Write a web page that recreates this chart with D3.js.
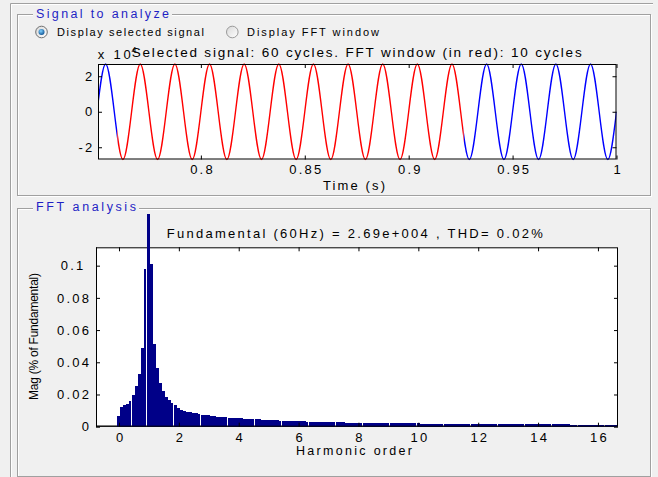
<!DOCTYPE html>
<html><head><meta charset="utf-8">
<script src="https://cdn.jsdelivr.net/npm/d3@7/dist/d3.min.js"></script>
<style>
html,body{margin:0;padding:0;background:#f0f0f0;}
svg{display:block;}
text{font-family:Arial,"Liberation Sans",sans-serif;}
</style></head><body>
<svg id="chart" width="658" height="477"></svg>
<script>
// ---------------- data ----------------
const signalStart = 0.75;          // s, time of first listed sample
const signalStep = 1 / 240;        // s between listed samples (quarter cycle of 60 Hz)
const signalValues = [             // x 10^4
  0, 2.69, 0, -2.69, 0, 2.69, 0, -2.69, 0, 2.69, 0, -2.69, 0, 2.69, 0, -2.69,
  0, 2.69, 0, -2.69, 0, 2.69, 0, -2.69, 0, 2.69, 0, -2.69, 0, 2.69, 0, -2.69,
  0, 2.69, 0, -2.69, 0, 2.69, 0, -2.69, 0, 2.69, 0, -2.69, 0, 2.69, 0, -2.69,
  0, 2.69, 0, -2.69, 0, 2.69, 0, -2.69, 0, 2.69, 0, -2.69, 0
];
const fftWindow = [0.7598, 0.92647];   // s (10 cycles, drawn in red)
const timeTicks = [0.8, 0.85, 0.9, 0.95, 1];
const timeTickLabels = ["0.8", "0.85", "0.9", "0.95", "1"];
const signalTicks = [-2, 0, 2];
const signalTickLabels = ["-2", "0", "2"];

const harmonicStep = 0.1;          // harmonic order between bars
const magnitudes = [               // % of fundamental, bars at 0, 0.1, 0.2 ... 16.6
  0.0064, 0.0122, 0.0132, 0.0142, 0.0159, 0.0196, 0.0250, 0.0326, 0.0486, 0.0980,
  100,    0.1010, 0.0514, 0.0363, 0.0270, 0.0219, 0.0186, 0.0164, 0.0145, 0.0135,
  0.0118, 0.0105, 0.0099, 0.0093, 0.0089, 0.0085, 0.0083, 0.0078, 0.0074, 0.0072,
  0.0070, 0.0069, 0.0067, 0.0063, 0.0061, 0.0060, 0.0058, 0.0056, 0.0055, 0.0054,
  0.0053, 0.0052, 0.0050, 0.0049, 0.0048, 0.0047, 0.0046, 0.0045, 0.0044, 0.0043,
  0.0042, 0.0041, 0.0040, 0.0039, 0.0038, 0.0037, 0.0037, 0.0036, 0.0036, 0.0035,
  0.0034, 0.0034, 0.0033, 0.0032, 0.0031, 0.0031, 0.0030, 0.0030, 0.0030, 0.0029,
  0.0029, 0.0029, 0.0028, 0.0028, 0.0028, 0.0027, 0.0026, 0.0026, 0.0025, 0.0025,
  0.0025, 0.0025, 0.0024, 0.0024, 0.0024, 0.0024, 0.0023, 0.0023, 0.0023, 0.0023,
  0.0023, 0.0022, 0.0022, 0.0022, 0.0022, 0.0021, 0.0021, 0.0021, 0.0021, 0.0021,
  0.0020, 0.0019, 0.0019, 0.0019, 0.0019, 0.0019, 0.0019, 0.0019, 0.0019, 0.0019,
  0.0019, 0.0018, 0.0018, 0.0018, 0.0018, 0.0018, 0.0018, 0.0018, 0.0018, 0.0018,
  0.0018, 0.0017, 0.0017, 0.0017, 0.0017, 0.0017, 0.0017, 0.0017, 0.0017, 0.0017,
  0.0017, 0.0016, 0.0016, 0.0016, 0.0016, 0.0016, 0.0016, 0.0016, 0.0016, 0.0016,
  0.0016, 0.0015, 0.0015, 0.0015, 0.0015, 0.0015, 0.0015, 0.0015, 0.0015, 0.0015,
  0.0015, 0.0013, 0.0012, 0.0012, 0.0012, 0.0012, 0.0012, 0.0012, 0.0012, 0.0012,
  0.0012, 0.0012, 0.0012, 0.0012, 0.0012, 0.0012, 0.0012
];
const harmonicTicks = [0, 2, 4, 6, 8, 10, 12, 14, 16];
const harmonicTickLabels = ["0", "2", "4", "6", "8", "10", "12", "14", "16"];
const magTicks = [0, 0.02, 0.04, 0.06, 0.08, 0.1];
const magTickLabels = ["0", "0.02", "0.04", "0.06", "0.08", "0.1\u00a0"];

const panelTitles = ["Signal to analyze", "FFT analysis"];
const radioLabels = ["Display selected signal", "Display FFT window"];
const signalTitle = "Selected signal: 60 cycles. FFT window (in red): 10 cycles";
const fftTitle = "Fundamental (60Hz) = 2.69e+004 , THD= 0.02%";

// ---------------- drawing ----------------
const svg = d3.select("#chart");
svg.append("rect").attr("width", 658).attr("height", 477).attr("fill", "#f0f0f0");
const defs = svg.append("defs");

function etched(x0, y0, x1, y1) {
  svg.append("rect").attr("x", x0 + 1.5).attr("y", y0 + 1.5)
    .attr("width", x1 - x0).attr("height", y1 - y0)
    .attr("fill", "none").attr("stroke", "#ffffff");
  svg.append("rect").attr("x", x0 + 0.5).attr("y", y0 + 0.5)
    .attr("width", x1 - x0).attr("height", y1 - y0)
    .attr("fill", "none").attr("stroke", "#a0a0a0");
}
function label(x, y, str, size, len, opts = {}) {
  const t = svg.append("text").attr("x", x).attr("y", y).text(str)
    .attr("font-size", size).attr("fill", opts.fill || "#000");
  if (len) t.attr("textLength", len).attr("lengthAdjust", "spacing");
  if (opts.anchor) t.attr("text-anchor", opts.anchor);
  if (opts.transform) t.attr("transform", opts.transform);
  return t;
}

// outer frame
svg.append("path").attr("d", "M10.5,477 V3.5 H653").attr("fill", "none").attr("stroke", "#a0a0a0");
svg.append("path").attr("d", "M11.5,477 V4.5 H653").attr("fill", "none").attr("stroke", "#ffffff");

// panels
etched(17, 14, 650, 195);
etched(17, 208, 650, 476);
svg.append("rect").attr("x", 33).attr("y", 8).attr("width", 139).attr("height", 12).attr("fill", "#f0f0f0");
svg.append("rect").attr("x", 33).attr("y", 202).attr("width", 106).attr("height", 12).attr("fill", "#f0f0f0");
label(36, 18.3, panelTitles[0], 12.5, 133, { fill: "#1f1fc4" });
label(36, 211, panelTitles[1], 12.5, 100, { fill: "#1f1fc4" });

// radio buttons
const rg = defs.append("radialGradient").attr("id", "rsel").attr("cx", "40%").attr("cy", "35%").attr("r", "70%");
rg.append("stop").attr("offset", "0%").attr("stop-color", "#7fd0ff");
rg.append("stop").attr("offset", "100%").attr("stop-color", "#0b4f8f");
const rg2 = defs.append("linearGradient").attr("id", "roff").attr("x1", 0).attr("y1", 0).attr("x2", 1).attr("y2", 1);
rg2.append("stop").attr("offset", "0%").attr("stop-color", "#d8d8d8");
rg2.append("stop").attr("offset", "100%").attr("stop-color", "#ffffff");
svg.append("circle").attr("cx", 41.5).attr("cy", 32).attr("r", 5.8).attr("fill", "url(#roff)").attr("stroke", "#6f6f6f");
svg.append("circle").attr("cx", 41.5).attr("cy", 32).attr("r", 3).attr("fill", "url(#rsel)");
svg.append("circle").attr("cx", 232.3).attr("cy", 32).attr("r", 5.8).attr("fill", "url(#roff)").attr("stroke", "#9a9a9a");
label(57, 35.5, radioLabels[0], 11, 147);
label(247, 35.5, radioLabels[1], 11, 132);

function styleAxis(g, fs) {
  g.select(".domain").remove();
  g.selectAll(".tick line").attr("stroke", "#000");
  g.selectAll(".tick text").attr("font-size", fs).attr("fill", "#000")
    .attr("font-family", "Arial, 'Liberation Sans', sans-serif")
    .style("letter-spacing", "2.2px");
}

// ---------- top plot: signal ----------
const tx = d3.scaleLinear().domain([0.7505, 1]).range([98, 616.5]);
const ty = d3.scaleLinear().domain([-2.69, 2.69]).range([159.5, 64]);
const [tx0, tx1] = tx.range(), [ty0, ty1] = ty.range();
svg.append("rect").attr("x", tx0).attr("y", ty1).attr("width", tx1 - tx0).attr("height", ty0 - ty1).attr("fill", "#fff");

const wx0 = tx(fftWindow[0]), wx1 = tx(fftWindow[1]);
const outClip = defs.append("clipPath").attr("id", "outClip");
outClip.append("rect").attr("x", tx0).attr("y", ty1 - 2).attr("width", wx0 - tx0).attr("height", ty0 - ty1 + 4);
outClip.append("rect").attr("x", wx1).attr("y", ty1 - 2).attr("width", tx1 - wx1).attr("height", ty0 - ty1 + 4);
defs.append("clipPath").attr("id", "winClip").append("rect")
  .attr("x", wx0).attr("y", ty1 - 2).attr("width", wx1 - wx0).attr("height", ty0 - ty1 + 4);

const sigPts = signalValues.map((v, i) => [signalStart + i * signalStep, v]);
const line = d3.line().x(d => tx(d[0])).y(d => ty(d[1])).curve(d3.curveNatural);
svg.append("path").attr("clip-path", "url(#outClip)").attr("d", line(sigPts))
  .attr("fill", "none").attr("stroke", "#0000ff").attr("stroke-width", 1.4);
svg.append("path").attr("clip-path", "url(#winClip)").attr("d", line(sigPts))
  .attr("fill", "none").attr("stroke", "#ff0000").attr("stroke-width", 1.4);

const tb = svg.append("g").attr("transform", `translate(0,${ty0})`)
  .call(d3.axisBottom(tx).tickValues(timeTicks).tickFormat((d, i) => timeTickLabels[i])
    .tickSizeInner(-4).tickSizeOuter(0).tickPadding(4.9));
styleAxis(tb, 13); tb.selectAll(".tick text").attr("dx", 1.1);
const tt = svg.append("g").attr("transform", `translate(0,${ty1})`)
  .call(d3.axisTop(tx).tickValues(timeTicks).tickFormat("").tickSizeInner(-4).tickSizeOuter(0));
styleAxis(tt, 13);
const tl = svg.append("g").attr("transform", `translate(${tx0},0)`)
  .call(d3.axisLeft(ty).tickValues(signalTicks).tickFormat((d, i) => signalTickLabels[i])
    .tickSizeInner(-4).tickSizeOuter(0).tickPadding(3.5));
styleAxis(tl, 13);
const tr = svg.append("g").attr("transform", `translate(${tx1},0)`)
  .call(d3.axisRight(ty).tickValues(signalTicks).tickFormat("").tickSizeInner(-4).tickSizeOuter(0));
styleAxis(tr, 13);
svg.append("rect").attr("x", tx0 + 0.5).attr("y", ty1 + 0.5).attr("width", tx1 - tx0 - 1).attr("height", ty0 - ty1 - 1)
  .attr("fill", "none").attr("stroke", "#000");

label(97.7, 59.3, "x 10", 13, 33);
label(131.5, 52.5, "4", 9);
label(131.7, 56.7, signalTitle, 13.5, 450);
label(323, 189.5, "Time (s)", 13, 62);

// ---------- bottom plot: FFT ----------
const hx = d3.scaleLinear().domain([-0.768, 16.67]).range([96, 618]);
const my = d3.scaleLinear().domain([0, 0.1114]).range([426.7, 247.3]);
const [hx0, hx1] = hx.range(), [my0, my1] = my.range();
svg.append("rect").attr("x", hx0).attr("y", my1).attr("width", hx1 - hx0).attr("height", my0 - my1).attr("fill", "#fff");

const bt = svg.append("g").attr("transform", `translate(0,${my1})`)
  .call(d3.axisTop(hx).tickValues(harmonicTicks).tickFormat("").tickSizeInner(-4).tickSizeOuter(0));
styleAxis(bt, 13);
const br = svg.append("g").attr("transform", `translate(${hx1},0)`)
  .call(d3.axisRight(my).tickValues(magTicks).tickFormat("").tickSizeInner(-4).tickSizeOuter(0));
styleAxis(br, 13);
svg.append("rect").attr("x", hx0 + 0.5).attr("y", my1 + 0.5).attr("width", hx1 - hx0 - 1).attr("height", my0 - my1 - 1)
  .attr("fill", "none").attr("stroke", "#000");

defs.append("clipPath").attr("id", "barClip").append("rect")
  .attr("x", hx0).attr("y", 214).attr("width", hx1 - hx0).attr("height", my0 - 214);
const bars = magnitudes.map((v, i) => ({ h: i * harmonicStep, v, i }));
const bx = d => Math.round(hx(d.h - harmonicStep / 2));
// thin light seams between some neighbouring bars, as in the rendered original
const seam = d => (d.i === 4 || (d.i > 0 && d.i % 9 === 0)) ? 1 : 0;
const bxr = d => Math.round(hx(d.h + harmonicStep / 2)) - seam(d);
svg.append("g").attr("clip-path", "url(#barClip)").attr("shape-rendering", "crispEdges")
  .selectAll("rect").data(bars).join("rect")
  .attr("x", bx)
  .attr("width", d => bxr(d) - bx(d))
  .attr("y", d => my(d.v))
  .attr("height", d => my0 - my(d.v))
  .attr("fill", "#000088");

const bb = svg.append("g").attr("transform", `translate(0,${my0})`)
  .call(d3.axisBottom(hx).tickValues(harmonicTicks).tickFormat((d, i) => harmonicTickLabels[i])
    .tickSizeInner(-4).tickSizeOuter(0).tickPadding(6.2));
styleAxis(bb, 13); bb.selectAll(".tick text").attr("dx", 1.1);
const bl = svg.append("g").attr("transform", `translate(${hx0},0)`)
  .call(d3.axisLeft(my).tickValues(magTicks).tickFormat((d, i) => magTickLabels[i])
    .tickSizeInner(-4).tickSizeOuter(0).tickPadding(4.8));
styleAxis(bl, 13);
svg.append("line").attr("x1", hx0).attr("x2", hx1).attr("y1", my0 - 0.5).attr("y2", my0 - 0.5).attr("stroke", "#000");
svg.append("line").attr("x1", hx0 + 0.5).attr("x2", hx0 + 0.5).attr("y1", my1).attr("y2", my0).attr("stroke", "#000");

label(166.7, 238.3, fftTitle, 13, 376);
label(296, 455, "Harmonic order", 12.5, 116);
label(0, 0, "Mag (% of Fundamental)", 12, 127, { anchor: "middle", transform: "translate(37.5,336.5) rotate(-90)" });
</script>
</body></html>
